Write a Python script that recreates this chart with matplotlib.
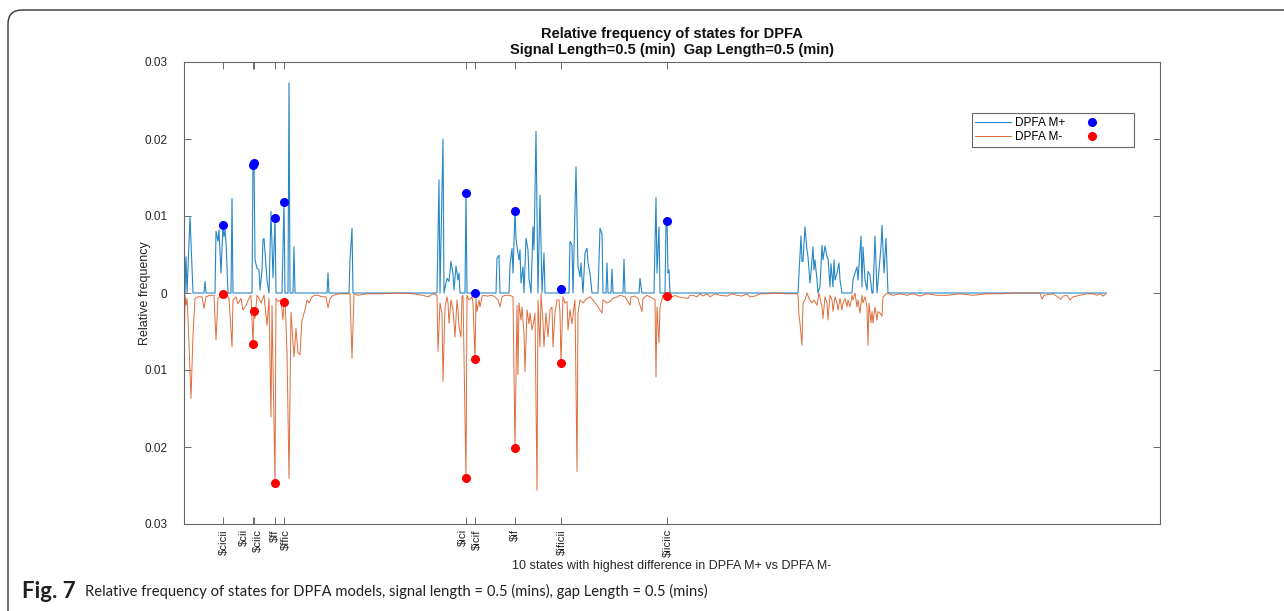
import numpy as np
import matplotlib.pyplot as plt
from matplotlib.patches import FancyBboxPatch
from matplotlib.transforms import IdentityTransform, ScaledTranslation
from matplotlib.ticker import FuncFormatter

plt.rcParams['text.parse_math'] = False
plt.rcParams['font.family'] = ['Liberation Sans', 'DejaVu Sans']

# state index vs relative frequency, DPFA M+
plus_x = [0, 1, 2, 3, 6, 9, 20, 21, 22, 31, 32, 34, 35, 37, 39, 40, 41, 42, 44, 47,
          48, 49, 68, 69, 70, 71, 73, 75, 76, 78, 79, 80, 82, 83, 85, 87, 89, 91, 92, 98,
          100, 101, 104, 105, 106, 109, 110, 111, 143, 144, 145, 165, 166, 168, 169, 253, 255, 256, 259, 260,
          263, 265, 267, 269, 270, 272, 274, 275, 276, 281, 282, 283, 291, 312, 313, 315, 316, 325, 326, 328,
          329, 331, 332, 333, 335, 336, 337, 339, 340, 342, 344, 345, 347, 349, 350, 352, 354, 356, 358, 360,
          361, 376, 377, 378, 385, 386, 388, 389, 392, 394, 396, 397, 399, 401, 403, 404, 406, 408, 414, 416,
          418, 419, 422, 423, 424, 427, 428, 429, 439, 440, 441, 455, 456, 457, 458, 470, 472, 473, 475, 476,
          481, 482, 483, 484, 485, 486, 614, 617, 618, 619, 621, 623, 624, 626, 627, 629, 630, 631, 633, 634,
          636, 638, 639, 641, 643, 644, 646, 647, 649, 650, 651, 653, 655, 656, 658, 668, 669, 671, 673, 674,
          677, 678, 679, 681, 683, 684, 686, 688, 689, 691, 693, 695, 697, 698, 700, 702, 704, 922]
plus_y = [0.0099, 0.0, 0.0047, 0.0, 0.0099, 0.0, 0.0, 0.0015, 0.0, 0.0, 0.0080, 0.0067, 0.0082, 0.0026, 0.0088, 0.0073, 0.0082, 0.0067, 0.0, 0.0,
          0.0123, 0.0, 0.0, 0.0166, 0.0169, 0.0043, 0.0032, 0.0030, 0.0004, 0.0030, 0.0069, 0.0071, 0.0034, 0.0017, 0.0, 0.0106, 0.0020, 0.0097, 0.0, 0.0,
          0.0118, 0.0, 0.0, 0.0273, 0.0, 0.0, 0.0060, 0.0, 0.0, 0.0026, 0.0, 0.0, 0.0043, 0.0084, 0.0, 0.0, 0.0147, 0.0, 0.0200, 0.0,
          0.0019, 0.0015, 0.0041, 0.0025, 0.0004, 0.0035, 0.0017, 0.0026, 0.0, 0.0, 0.0130, 0.0, 0.0, 0.0, 0.0045, 0.0049, 0.0, 0.0, 0.0036, 0.0058,
          0.0026, 0.0107, 0.0071, 0.0060, 0.0043, 0.0056, 0.0013, 0.0034, 0.0, 0.0071, 0.0056, 0.0019, 0.0, 0.0086, 0.0056, 0.0210, 0.0, 0.0127, 0.0, 0.0052,
          0.0, 0.0, 0.0005, 0.0, 0.0, 0.0067, 0.0062, 0.0, 0.0164, 0.0034, 0.0021, 0.0039, 0.0, 0.0052, 0.0058, 0.0039, 0.0026, 0.0, 0.0, 0.0084,
          0.0077, 0.0, 0.0, 0.0039, 0.0, 0.0, 0.0031, 0.0, 0.0, 0.0044, 0.0, 0.0, 0.0019, 0.0008, 0.0, 0.0, 0.0124, 0.0026, 0.0086, 0.0,
          0.0, 0.0086, 0.0094, 0.0026, 0.0030, 0.0, 0.0, 0.0074, 0.0041, 0.0041, 0.0086, 0.0056, 0.0047, 0.0013, 0.0026, 0.0060, 0.0030, 0.0043, 0.0017, 0.0,
          0.0009, 0.0062, 0.0043, 0.0061, 0.0047, 0.0045, 0.0008, 0.0038, 0.0008, 0.0043, 0.0017, 0.0026, 0.0039, 0.0017, 0.0, 0.0, 0.0017, 0.0026, 0.0034, 0.0017,
          0.0074, 0.0008, 0.0060, 0.0017, 0.0004, 0.0028, 0.0023, 0.0, 0.0, 0.0074, 0.0, 0.0030, 0.0060, 0.0088, 0.0026, 0.0071, 0.0, 0.0]

# DPFA M- (plotted downwards)
minus_x = [0, 1, 2, 3, 4, 7, 9, 11, 14, 18, 20, 22, 26, 30, 32, 34, 37, 39, 42, 45,
           48, 49, 52, 54, 57, 59, 62, 65, 67, 69, 70, 71, 73, 75, 77, 80, 83, 85, 87, 88,
           91, 92, 94, 97, 99, 100, 101, 103, 105, 107, 110, 112, 114, 116, 118, 119, 121, 123, 125, 128,
           131, 134, 138, 142, 144, 146, 149, 156, 166, 168, 170, 174, 183, 196, 216, 229, 239, 244, 249, 253,
           254, 256, 258, 259, 261, 263, 264, 265, 267, 269, 271, 273, 274, 275, 277, 278, 279, 282, 283, 285,
           288, 289, 291, 292, 293, 295, 296, 298, 299, 303, 308, 311, 314, 316, 318, 321, 326, 329, 331, 333,
           334, 335, 337, 338, 340, 341, 343, 345, 346, 348, 350, 351, 353, 354, 356, 357, 359, 360, 362, 364,
           366, 368, 369, 371, 373, 375, 376, 377, 379, 381, 383, 384, 386, 388, 390, 391, 393, 394, 396, 399,
           403, 406, 409, 413, 416, 418, 419, 423, 426, 429, 433, 436, 441, 444, 446, 447, 451, 454, 456, 458,
           459, 463, 466, 471, 472, 473, 475, 476, 479, 482, 483, 485, 489, 491, 494, 504, 506, 509, 513, 516,
           519, 523, 526, 531, 536, 543, 548, 553, 558, 563, 566, 571, 576, 583, 591, 603, 613, 614, 615, 616,
           618, 619, 621, 623, 625, 628, 630, 633, 635, 638, 639, 641, 643, 644, 646, 648, 649, 651, 653, 654,
           656, 658, 659, 661, 663, 664, 666, 668, 669, 671, 673, 674, 676, 678, 679, 681, 683, 684, 685, 687,
           688, 689, 691, 693, 694, 696, 698, 699, 701, 703, 709, 716, 723, 729, 736, 743, 753, 763, 776, 789,
           803, 816, 829, 843, 856, 858, 860, 869, 877, 879, 883, 886, 889, 896, 903, 909, 913, 916, 919, 922]
minus_y = [0.0094, 0.0003, 0.0016, 0.0007, 0.0033, 0.0137, 0.0055, 0.0007, 0.0005, 0.0005, 0.0020, 0.0005, 0.0003, 0.0003, 0.0061, 0.0007, 0.0003, 0.0001, 0.0003, 0.0007,
           0.0070, 0.0009, 0.0005, 0.0014, 0.0007, 0.0022, 0.0016, 0.0007, 0.0003, 0.0066, 0.0024, 0.0033, 0.0003, 0.0007, 0.0013, 0.0003, 0.0042, 0.0007, 0.0161, 0.0016,
           0.0247, 0.0007, 0.0011, 0.0009, 0.0035, 0.0012, 0.0007, 0.0076, 0.0241, 0.0025, 0.0083, 0.0046, 0.0078, 0.0080, 0.0035, 0.0031, 0.0022, 0.0009, 0.0013, 0.0005,
           0.0003, 0.0003, 0.0005, 0.0005, 0.0019, 0.0007, 0.0003, 0.0001, 0.0001, 0.0085, 0.0001, 0.0003, 0.0001, 0.0001, 0.0, 0.0001, 0.0003, 0.0005, 0.0001, 0.0003,
           0.0076, 0.0013, 0.0026, 0.0115, 0.0018, 0.0005, 0.0013, 0.0039, 0.0009, 0.0022, 0.0057, 0.0009, 0.0022, 0.0044, 0.0057, 0.0005, 0.0003, 0.0240, 0.0003, 0.0009,
           0.0005, 0.0013, 0.0086, 0.0007, 0.0024, 0.0009, 0.0018, 0.0005, 0.0003, 0.0004, 0.0003, 0.0005, 0.0009, 0.0018, 0.0005, 0.0003, 0.0003, 0.0005, 0.0201, 0.0016,
           0.0106, 0.0013, 0.0035, 0.0018, 0.0052, 0.0102, 0.0022, 0.0040, 0.0026, 0.0048, 0.0035, 0.0026, 0.0256, 0.0009, 0.0070, 0.0001, 0.0039, 0.0070, 0.0026, 0.0057,
           0.0022, 0.0018, 0.0070, 0.0026, 0.0009, 0.0009, 0.0026, 0.0091, 0.0005, 0.0013, 0.0011, 0.0048, 0.0022, 0.0040, 0.0018, 0.0009, 0.0232, 0.0026, 0.0009, 0.0013,
           0.0007, 0.0005, 0.0009, 0.0016, 0.0022, 0.0026, 0.0009, 0.0013, 0.0011, 0.0007, 0.0005, 0.0003, 0.0005, 0.0011, 0.0016, 0.0005, 0.0004, 0.0007, 0.0016, 0.0024,
           0.0007, 0.0003, 0.0005, 0.0009, 0.0109, 0.0018, 0.0065, 0.0018, 0.0003, 0.0005, 0.0004, 0.0003, 0.0005, 0.0003, 0.0005, 0.0007, 0.0003, 0.0003, 0.0005, 0.0001,
           0.0004, 0.0001, 0.0005, 0.0001, 0.0003, 0.0004, 0.0001, 0.0003, 0.0004, 0.0001, 0.0005, 0.0004, 0.0001, 0.0001, 0.0, 0.0001, 0.0001, 0.0003, 0.0030, 0.0039,
           0.0068, 0.0013, 0.0009, 0.0, 0.0007, 0.0013, 0.0009, 0.0016, 0.0, 0.0018, 0.0033, 0.0005, 0.0013, 0.0035, 0.0003, 0.0009, 0.0024, 0.0005, 0.0013, 0.0022,
           0.0007, 0.0022, 0.0013, 0.0007, 0.0018, 0.0009, 0.0018, 0.0003, 0.0009, 0.0, 0.0018, 0.0009, 0.0026, 0.0003, 0.0013, 0.0005, 0.0018, 0.0068, 0.0013, 0.0039,
           0.0024, 0.0039, 0.0018, 0.0035, 0.0024, 0.0026, 0.0030, 0.0005, 0.0003, 0.0, 0.0003, 0.0001, 0.0003, 0.0001, 0.0004, 0.0001, 0.0003, 0.0003, 0.0001, 0.0003,
           0.0001, 0.0001, 0.0, 0.0, 0.0, 0.0008, 0.0003, 0.0001, 0.0008, 0.0004, 0.0003, 0.0009, 0.0005, 0.0003, 0.0001, 0.0001, 0.0003, 0.0001, 0.0004, 0.0001]

# the 10 states with highest difference
states = [39, 69, 70, 91, 100, 282, 291, 331, 377, 483]
state_labels = ['$cicii', '$cii', '$ciic', '$ff', '$ffic', '$ici', '$icif', '$if', '$ificii', '$iiciic']
label_shift = [1, -9, 4, 0, 2, -3, 2, 0, 1, 1]  # px nudge so close labels don't overlap

fig = plt.figure(figsize=(12.84, 6.11), dpi=100)
ax = fig.add_axes([184 / 1284, 87 / 611, 976 / 1284, 462 / 611])

l1, = ax.plot(plus_x, plus_y, color='#0072BD', lw=0.8, alpha=0.85)
l2, = ax.plot(minus_x, -np.array(minus_y), color='#D95319', lw=0.7, alpha=0.85)

plus_lookup = dict(zip(plus_x, plus_y))
minus_lookup = dict(zip(minus_x, minus_y))
m1, = ax.plot(states, [plus_lookup[s] for s in states], 'o', color='#0000FF', ms=5.5, ls='none')
m2, = ax.plot(states, [-minus_lookup[s] for s in states], 'o', color='#FF0000', ms=5.5, ls='none')

ax.set_xlim(0, 976)
ax.set_ylim(-0.03, 0.03)
ax.set_yticks([-0.03, -0.02, -0.01, 0, 0.01, 0.02, 0.03])
ax.yaxis.set_major_formatter(FuncFormatter(lambda v, p: '0' if abs(v) < 1e-9 else f'{abs(v):.2f}'))
ax.set_xticks(states)
ax.set_xticklabels([])
ax.tick_params(direction='in', length=5, width=0.6, top=True, right=True, labelsize=8.5,
               color='#555555', labelcolor='#262626')
ax.tick_params(axis='y', pad=12)
for sp in ax.spines.values():
    sp.set_color('#666666')
    sp.set_linewidth(0.8)

# rotated state labels under the ticks
for s, lab, dx in zip(states, state_labels, label_shift):
    ax.text(s, 0, lab, rotation=90, ha='center', va='top', fontsize=8.2, color='#262626',
            transform=ax.get_xaxis_transform() + ScaledTranslation(dx / 100, -5 / 100, fig.dpi_scale_trans))

ax.set_xlabel('10 states with highest difference in DPFA M+ vs DPFA M-', fontsize=9, color='#262626')
ax.xaxis.set_label_coords(0.5, -36 / 462)
ax.set_ylabel('Relative frequency', fontsize=9, color='#262626')
ax.yaxis.set_label_coords(-33 / 976, 0.5)
ax.set_title('Relative frequency of states for DPFA\nSignal Length=0.5 (min)  Gap Length=0.5 (min)',
             fontsize=10.5, fontweight='bold', color='#111111', pad=6, linespacing=1.15)

leg = ax.legend([l1, l2, m1, m2], ['DPFA M+', 'DPFA M-', '     ', '     '], ncol=2, fontsize=8.5,
                loc='upper left', bbox_to_anchor=(0.807, 0.889), frameon=True, fancybox=False,
                handlelength=3.0, borderpad=0.3, labelspacing=0.2, columnspacing=0.75, handletextpad=0.4,
                borderaxespad=0)
leg.get_frame().set_edgecolor('#444444')
leg.get_frame().set_linewidth(0.8)

# rounded frame of the figure panel
frame = FancyBboxPatch((8, -30), 1320, 601 + 30, boxstyle='round,pad=0,rounding_size=14',
                       transform=IdentityTransform(), fill=False, edgecolor='#333333', lw=1.0)
fig.add_artist(frame)

# caption
cap_font = ['Lato', 'Open Sans', 'DejaVu Sans']
cap1 = fig.text(22 / 1284, 1 - 591 / 611, 'Fig. 7', fontsize=16, fontweight='bold',
                family=cap_font, va='center', color='#231f20')
fig.canvas.draw()
bb = cap1.get_window_extent()
fig.text((bb.x1 + 9) / 1284, 1 - 591 / 611,
         'Relative frequency of states for DPFA models, signal length = 0.5 (mins), gap Length = 0.5 (mins)',
         fontsize=10.6, family=cap_font, va='center', color='#231f20')

fig.savefig('out.png', dpi=100)
